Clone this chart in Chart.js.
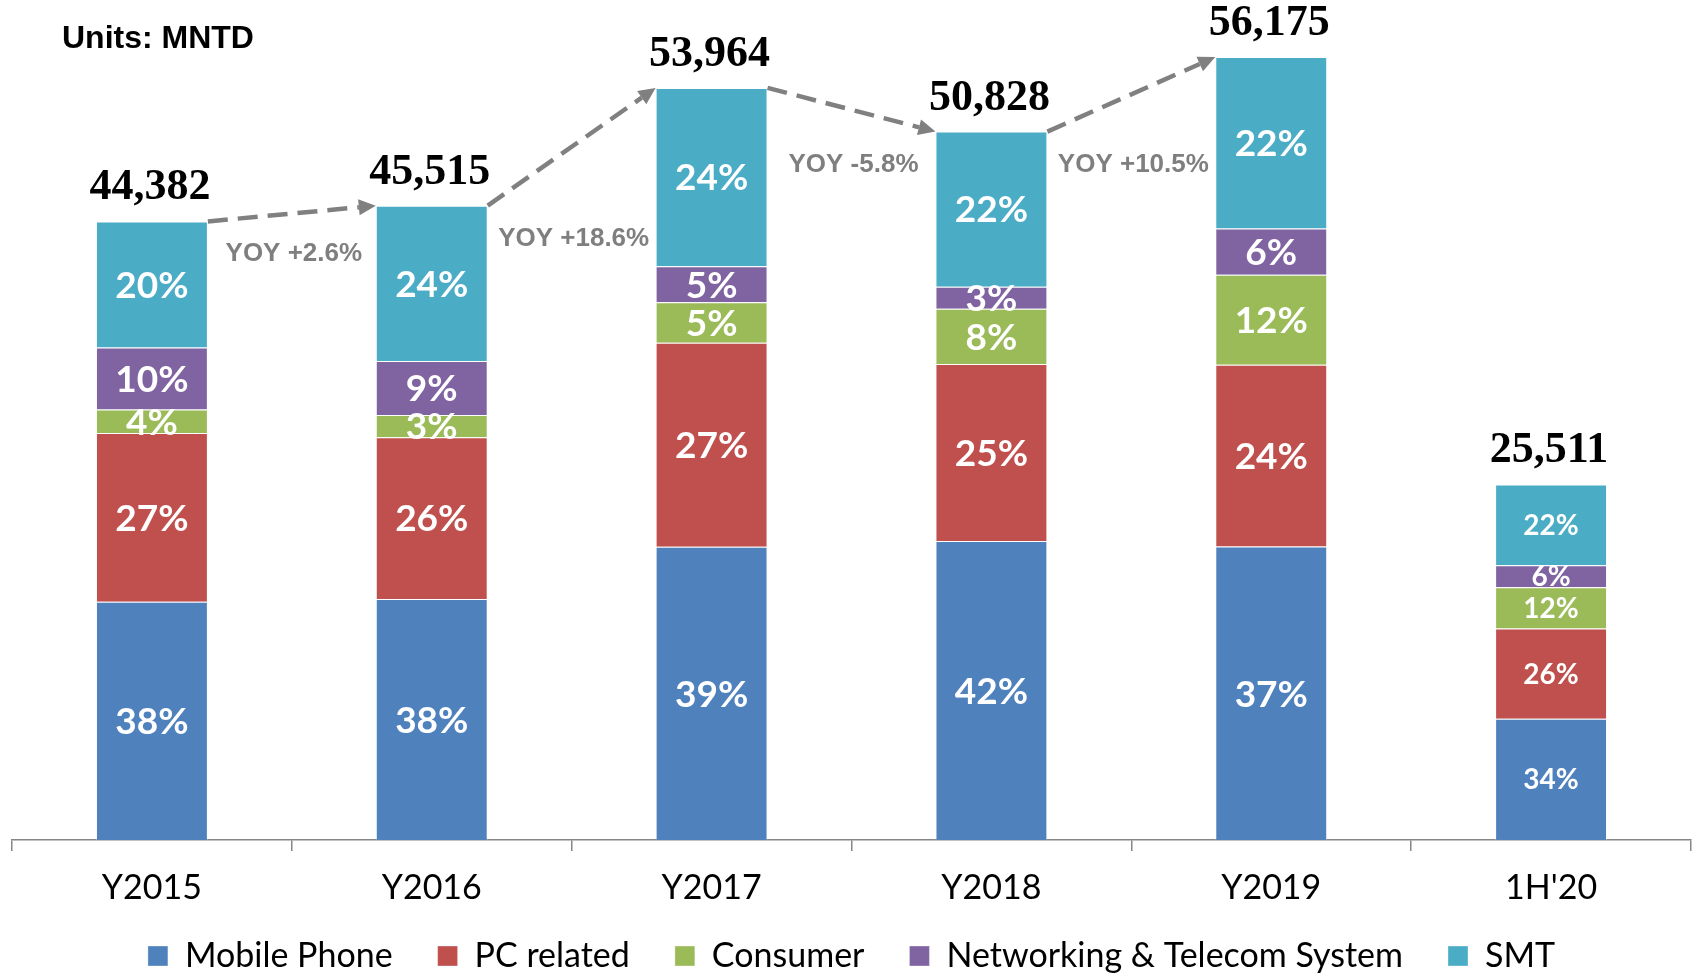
<!DOCTYPE html>
<html>
<head>
<meta charset="utf-8">
<title>Revenue by segment</title>
<script src="https://cdn.jsdelivr.net/npm/chart.js@4.4.1/dist/chart.umd.min.js"></script>
<style>
  html, body { margin: 0; padding: 0; background: #fff; overflow: hidden; }
  #wrap { width: 1692px; height: 983px; position: relative; }
</style>
</head>
<body>
<div id="wrap"><canvas id="chart"></canvas></div>
<script>
// categories and totals (MNTD)
const categories = ["Y2015", "Y2016", "Y2017", "Y2018", "Y2019", "1H'20"];
const totals = [44382, 45515, 53964, 50828, 56175, 25511];

// segment shares in %
const mobileShare = [38.5, 38.0, 39.0, 42.2, 37.5, 34.1];
const pcShare = [27.3, 25.5, 27.1, 25.0, 23.2, 25.4];
const consumerShare = [3.8, 3.5, 5.4, 7.8, 11.5, 11.6];
const networkingShare = [10.0, 8.5, 4.8, 3.1, 5.9, 6.2];
const smtShare = [20.4, 24.5, 23.7, 21.9, 21.9, 22.7];

// percentages printed inside the bars
const mobileLabel = [38, 38, 39, 42, 37, 34];
const pcLabel = [27, 26, 27, 25, 24, 26];
const consumerLabel = [4, 3, 5, 8, 12, 12];
const networkingLabel = [10, 9, 5, 3, 6, 6];
const smtLabel = [20, 24, 24, 22, 22, 22];

const yoyLabels = ["YOY +2.6%", "YOY +18.6%", "YOY -5.8%", "YOY +10.5%"];

const toValues = (share) => share.map((s, i) => totals[i] * s / 100);

const series = [
  { label: "Mobile Phone", share: mobileShare, pct: mobileLabel, color: "#4F81BD" },
  { label: "PC related", share: pcShare, pct: pcLabel, color: "#C0504D" },
  { label: "Consumer", share: consumerShare, pct: consumerLabel, color: "#9BBB59" },
  { label: "Networking & Telecom System", share: networkingShare, pct: networkingLabel, color: "#8064A2" },
  { label: "SMT", share: smtShare, pct: smtLabel, color: "#4BACC6" },
];

const sansFont = "Lato, 'Open Sans', sans-serif";

const overlay = {
  id: "overlay",
  afterDraw(chart) {
    const ctx = chart.ctx;
    ctx.save();

    // percent labels inside segments
    chart.data.datasets.forEach((ds, d) => {
      const meta = chart.getDatasetMeta(d);
      meta.data.forEach((bar, i) => {
        const size = i === 5 ? 28 : 37;
        ctx.font = "bold " + size + "px " + sansFont;
        ctx.fillStyle = "#ffffff";
        ctx.textAlign = "center";
        ctx.textBaseline = "alphabetic";
        const cy = (bar.y + bar.base) / 2;
        ctx.fillText(series[d].pct[i] + "%", bar.x, cy + size * 0.36);
      });
    });

    // category labels under the axis
    const xs = chart.scales.x;
    ctx.font = "34px " + sansFont;
    ctx.fillStyle = "#000";
    ctx.textAlign = "center";
    categories.forEach((c, i) => {
      ctx.fillText(c, xs.getPixelForValue(i), 899);
    });

    // totals above bars
    const topMeta = chart.getDatasetMeta(chart.data.datasets.length - 1);
    const tops = topMeta.data.map((b) => ({ x: b.x, y: b.y, w: b.width }));
    ctx.font = "bold 44px 'Liberation Serif', 'DejaVu Serif', serif";
    ctx.fillStyle = "#000";
    ctx.textAlign = "center";
    tops.forEach((t, i) => {
      ctx.fillText(totals[i].toLocaleString("en-US"), t.x - 2, t.y - 22);
    });

    // dashed YOY arrows
    for (let i = 0; i < yoyLabels.length; i++) {
      const a = tops[i], b = tops[i + 1];
      const x1 = a.x + a.w / 2, y1 = a.y;
      const x2 = b.x - b.w / 2, y2 = b.y;
      const ang = Math.atan2(y2 - y1, x2 - x1);
      const head = 17, half = 8;
      const bx = x2 - head * Math.cos(ang), by = y2 - head * Math.sin(ang);
      ctx.strokeStyle = "#808080";
      ctx.lineWidth = 4.5;
      ctx.setLineDash([20, 10]);
      ctx.beginPath();
      ctx.moveTo(x1, y1);
      ctx.lineTo(bx, by);
      ctx.stroke();
      ctx.setLineDash([]);
      ctx.fillStyle = "#808080";
      ctx.beginPath();
      ctx.moveTo(x2, y2);
      ctx.lineTo(bx + half * Math.sin(ang), by - half * Math.cos(ang));
      ctx.lineTo(bx - half * Math.sin(ang), by + half * Math.cos(ang));
      ctx.closePath();
      ctx.fill();

      ctx.font = "bold 26px 'Liberation Sans', Arial, sans-serif";
      ctx.fillStyle = "#7F7F7F";
      ctx.textAlign = "center";
      ctx.fillText(yoyLabels[i], (a.x + b.x) / 2 + 2, Math.max(a.y, b.y) + 40);
    }

    // units note
    ctx.font = "bold 32px 'Liberation Sans', Arial, sans-serif";
    ctx.fillStyle = "#000";
    ctx.textAlign = "left";
    ctx.fillText("Units: MNTD", 62, 48);

    ctx.restore();
  },
};

new Chart(document.getElementById("chart"), {
  type: "bar",
  data: {
    labels: categories,
    datasets: series.map((s) => ({
      label: s.label,
      data: toValues(s.share),
      backgroundColor: s.color,
      borderColor: "rgba(255,255,255,0.35)",
      borderWidth: 1,
      barPercentage: 0.4,
      categoryPercentage: 1,
    })),
  },
  options: {
    responsive: true,
    maintainAspectRatio: false,
    animation: false,
    layout: { padding: { left: 12, right: 1, top: 0, bottom: 0 } },
    scales: {
      x: {
        stacked: true,
        grid: {
          drawOnChartArea: false,
          color: "#868686",
          lineWidth: 1.5,
          tickLength: 11,
        },
        border: { color: "#868686", width: 1.5 },
        ticks: { display: false },
        afterFit(scale) {
          scale.height = 54;
        },
      },
      y: {
        stacked: true,
        display: false,
        min: 0,
        max: 60270,
      },
    },
    plugins: {
      legend: {
        position: "bottom",
        labels: {
          boxWidth: 20,
          boxHeight: 20,
          padding: 45,
          color: "#000",
          font: { family: sansFont, size: 34 },
        },
      },
      tooltip: { enabled: false },
    },
  },
  plugins: [overlay],
});
</script>
</body>
</html>
